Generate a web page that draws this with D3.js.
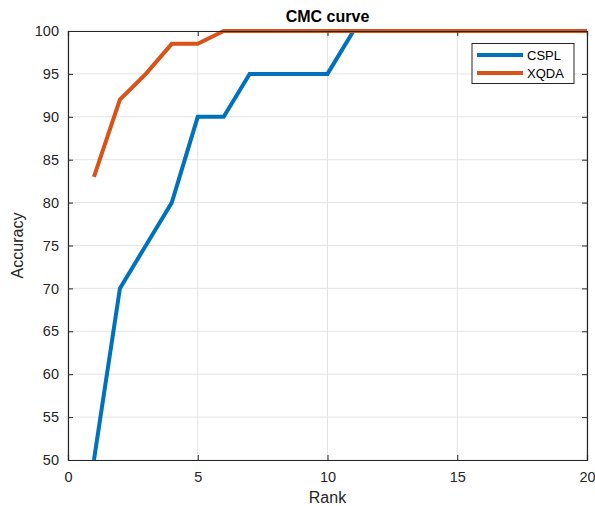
<!DOCTYPE html>
<html><head><meta charset="utf-8">
<script src="https://cdn.jsdelivr.net/npm/d3@7"></script>
<style>body{margin:0;background:#fff;} svg{display:block;font-family:"Liberation Sans",Arial,sans-serif;}</style>
</head><body>
<svg id="chart" width="595" height="506"></svg>
<script>
const ranks = [1,2,3,4,5,6,7,8,9,10,11,12,13,14,15,16,17,18,19,20];
const csplValues = [50,70,75,80,90,90,95,95,95,95,100,100,100,100,100,100,100,100,100,100];
const xqdaValues = [83,92,95,98.5,98.5,100,100,100,100,100,100,100,100,100,100,100,100,100,100,100];
const seriesNames = ["CSPL","XQDA"];
const seriesColors = ["#0072BD","#D95319"];
const xTicks = [0,5,10,15,20];
const yTicks = [50,55,60,65,70,75,80,85,90,95,100];

const svg = d3.select("#chart");
const L=68, R=587, T=31, B=460;
const x = d3.scaleLinear().domain([0,20]).range([L,R]);
const y = d3.scaleLinear().domain([50,100]).range([B,T]);

// grid
svg.append("g").selectAll("line").data(xTicks).join("line")
  .attr("x1",d=>x(d)).attr("x2",d=>x(d)).attr("y1",T).attr("y2",B)
  .attr("stroke","#e3e3e3").attr("stroke-width",1);
svg.append("g").selectAll("line").data(yTicks).join("line")
  .attr("x1",L).attr("x2",R).attr("y1",d=>y(d)).attr("y2",d=>y(d))
  .attr("stroke","#e3e3e3").attr("stroke-width",1);

// lines
const line = d3.line().x((d,i)=>x(ranks[i])).y(d=>y(d));
const clip = svg.append("clipPath").attr("id","clip").append("rect")
  .attr("x",L).attr("y",T-3).attr("width",R-L).attr("height",B-T+3);
[csplValues,xqdaValues].forEach((vals,k)=>{
  svg.append("path").datum(vals).attr("d",line).attr("fill","none")
    .attr("stroke",seriesColors[k]).attr("stroke-width",4)
    .attr("stroke-linejoin","miter").attr("clip-path","url(#clip)");
});

// axes
const axCol="#262626";
const xAxis = svg.append("g").attr("transform",`translate(0,${B})`)
  .call(d3.axisBottom(x).tickValues(xTicks).tickSize(-5).tickPadding(12));
const yAxis = svg.append("g").attr("transform",`translate(${L},0)`)
  .call(d3.axisLeft(y).tickValues(yTicks).tickSize(-5).tickPadding(9));
const xTop = svg.append("g").attr("transform",`translate(0,${T})`)
  .call(d3.axisTop(x).tickValues(xTicks).tickSize(-5).tickFormat(""));
const yRight = svg.append("g").attr("transform",`translate(${R},0)`)
  .call(d3.axisRight(y).tickValues(yTicks).tickSize(-5).tickFormat(""));
[xAxis,yAxis,xTop,yRight].forEach(g=>{
  g.select(".domain").attr("stroke",axCol).attr("stroke-width",1.2);
  g.selectAll(".tick line").attr("stroke",axCol);
  g.selectAll(".tick text").attr("fill",axCol).attr("font-size",14.5)
    .attr("font-family","Liberation Sans, Arial, sans-serif");
});

// labels
svg.append("text").attr("x",(L+R)/2).attr("y",22).attr("text-anchor","middle")
  .attr("font-size",16).attr("font-weight","bold").attr("fill","#000").text("CMC curve");
svg.append("text").attr("x",(L+R)/2).attr("y",503).attr("text-anchor","middle")
  .attr("font-size",16).attr("fill",axCol).text("Rank");
svg.append("text").attr("transform",`translate(23,${(T+B)/2}) rotate(-90)`)
  .attr("text-anchor","middle").attr("font-size",16).attr("fill",axCol).text("Accuracy");

// legend
const lg = svg.append("g");
lg.append("rect").attr("x",472).attr("y",43.5).attr("width",102).attr("height",40)
  .attr("fill","#fff").attr("stroke",axCol).attr("stroke-width",1);
seriesNames.forEach((n,i)=>{
  const yy = 55+i*18;
  lg.append("line").attr("x1",477).attr("x2",523).attr("y1",yy).attr("y2",yy)
    .attr("stroke",seriesColors[i]).attr("stroke-width",4);
  lg.append("text").attr("x",527).attr("y",yy+4.5).attr("font-size",13).attr("fill","#000").text(n);
});
</script>
</body></html>
